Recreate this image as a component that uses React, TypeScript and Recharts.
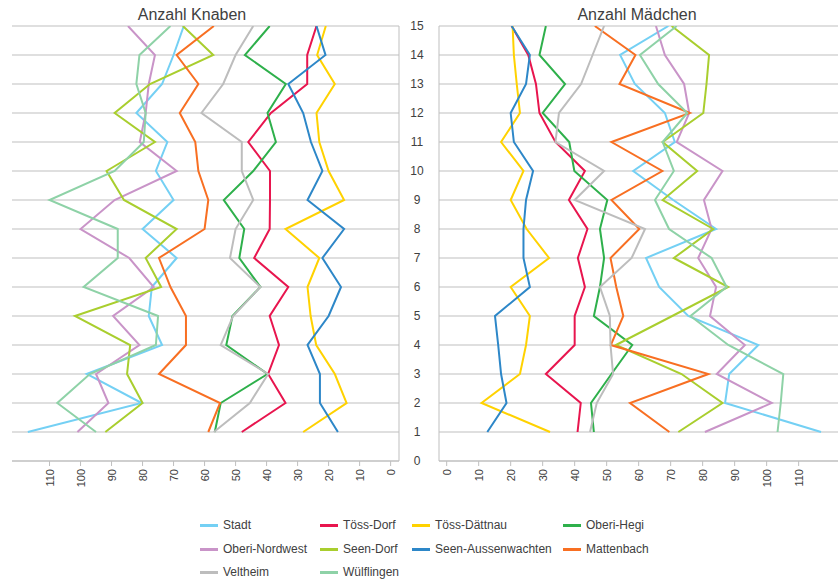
import React from 'react';
import { LineChart, Line, XAxis, YAxis, ReferenceLine } from 'recharts';

// ---- Data -------------------------------------------------------------
const ages = [1, 2, 3, 4, 5, 6, 7, 8, 9, 10, 11, 12, 13, 14, 15];
const xTicks = [0, 10, 20, 30, 40, 50, 60, 70, 80, 90, 100, 110];
const yTicks = [0, 1, 2, 3, 4, 5, 6, 7, 8, 9, 10, 11, 12, 13, 14, 15];

const seriesNames = [
  'Stadt', 'Töss-Dorf', 'Töss-Dättnau', 'Oberi-Hegi',
  'Oberi-Nordwest', 'Seen-Dorf', 'Seen-Aussenwachten', 'Mattenbach',
  'Veltheim', 'Wülflingen',
];
const seriesColors = [
  '#74D0F4', '#E8154E', '#FFD200', '#2EB04B',
  '#C994C8', '#A9CE2E', '#2D87C8', '#F86F22',
  '#BDBDBD', '#8ED2A7',
];

// Anzahl Knaben (age 1 .. 15)
const knabenStadt = [117, 80.3, 98, 73.7, 78, 77, 69, 80, 70, 75.7, 72, 82, 73.7, 70, 66.7];
const knabenToessDorf = [48, 33.9, 39.5, 36, 39, 33, 44, 39, 38.9, 38.9, 45.9, 38.6, 26.9, 26.9, 23.9];
const knabenToessDaettnau = [28.2, 14.2, 18, 24, 25.8, 26.8, 23, 33.9, 15, 20, 23, 23.9, 18, 23.7, 20.9];
const knabenOberiHegi = [56.7, 54.8, 39.7, 53, 51, 42, 48.8, 47.2, 53.8, 44.3, 37, 39.7, 33.8, 47, 39];
const knabenOberiNordwest = [101, 91, 95, 81, 89.5, 76.4, 84.3, 100, 89, 69, 80.9, 79, 78, 76, 84.7];
const knabenSeenDorf = [92, 80, 85, 84, 101.8, 74, 79, 69, 86, 91.6, 76, 89, 77.6, 57.2, 67];
const knabenSeenAussenwachten = [17, 22.8, 22.8, 26.8, 20, 16, 22, 15, 26.8, 22, 25.7, 28.2, 33, 21, 23.9];
const knabenMattenbach = [58.8, 55, 74.7, 66, 66, 71, 74.7, 60, 58.8, 62, 63, 68, 62, 69, 57];
const knabenVeltheim = [57, 45.4, 39.5, 54.8, 50.8, 42, 51.8, 50, 44.3, 48, 48, 61, 54, 50, 44.3];
const knabenWuelflingen = [95, 107.5, 97, 75.7, 75, 99, 88, 88, 110, 89, 79.6, 79, 82, 81, 71];

// Anzahl Mädchen (age 1 .. 15)
const maedchenStadt = [117, 87, 88.3, 97.4, 75.5, 66.4, 62.3, 84.2, 70.8, 58.3, 71.3, 68.2, 58.8, 54.2, 69.3];
const maedchenToessDorf = [40.9, 41.9, 31, 40, 40, 43.2, 41, 44, 38.2, 43.2, 34, 29, 27.9, 25.5, 20.3];
const maedchenToessDaettnau = [32.3, 10.9, 22.9, 24.8, 26, 20, 32, 25, 20, 24, 17, 22.9, 21.9, 21, 20.6];
const maedchenOberiHegi = [46, 45.1, 51.5, 58, 46, 47.9, 49.2, 47.9, 50.2, 39.9, 38.3, 30, 37, 29, 31];
const maedchenOberiNordwest = [80.7, 101.6, 84.4, 93.2, 82.3, 84.2, 78.6, 82.8, 80.4, 86.2, 71.9, 75.8, 74.2, 68.2, 65.4];
const maedchenSeenDorf = [72.4, 86.2, 73.4, 52.9, 70.5, 88, 71, 83.3, 67.5, 78.3, 67.5, 80.2, 81.2, 82, 70.3];
const maedchenSeenAussenwachten = [12.7, 18.7, 17, 16.1, 15.1, 26, 24, 24, 24.8, 27, 21, 20, 24.8, 26, 20.3];
const maedchenMattenbach = [69.6, 57.3, 81.8, 51.3, 55.2, 53, 51.2, 60.2, 51.5, 67.4, 51.5, 76, 54, 59, 46.3];
const maedchenVeltheim = [44.8, 46.9, 52, 51.2, 51, 47.9, 57.8, 62, 40, 49.2, 34, 35.1, 42, 45.6, 49.2];
const maedchenWuelflingen = [103.4, 104.4, 105.2, 88, 76.2, 87.5, 82.8, 69.5, 65.1, 71, 67.5, 75.2, 66.1, 60.4, 71.9];

const knabenSeries = [
  knabenStadt, knabenToessDorf, knabenToessDaettnau, knabenOberiHegi,
  knabenOberiNordwest, knabenSeenDorf, knabenSeenAussenwachten, knabenMattenbach,
  knabenVeltheim, knabenWuelflingen,
];
const maedchenSeries = [
  maedchenStadt, maedchenToessDorf, maedchenToessDaettnau, maedchenOberiHegi,
  maedchenOberiNordwest, maedchenSeenDorf, maedchenSeenAussenwachten, maedchenMattenbach,
  maedchenVeltheim, maedchenWuelflingen,
];

const buildRows = (seriesValues: number[][]) =>
  ages.map((age, i) => {
    const row: Record<string, number> = { age };
    seriesNames.forEach((name, s) => {
      row[name] = seriesValues[s][i];
    });
    return row;
  });

const boysData = buildRows(knabenSeries);
const girlsData = buildRows(maedchenSeries);

// ---- Styling ----------------------------------------------------------
const FONT = '"Liberation Sans", Arial, Helvetica, sans-serif';
const TEXT = '#404040';
const GRID = '#BFBFBF';

const XTick = (props: any) => {
  const { x, y, payload } = props;
  return (
    <text
      x={x}
      y={y}
      transform={`rotate(-90, ${x}, ${y})`}
      textAnchor="end"
      dominantBaseline="central"
      fontSize={11}
      fill={TEXT}
      fontFamily={FONT}
    >
      {payload.value}
    </text>
  );
};

const YTick = (props: any) => {
  const { x, y, payload } = props;
  return (
    <text
      x={x - 22}
      y={y}
      textAnchor="middle"
      dominantBaseline="central"
      fontSize={12}
      fill={TEXT}
      fontFamily={FONT}
    >
      {payload.value}
    </text>
  );
};

const legendCols = [200, 320, 412, 563];
const legendRows = [525, 549, 572];

const renderGrid = () =>
  yTicks.map((t) => (
    <ReferenceLine key={`g${t}`} y={t} stroke={GRID} strokeWidth={1} ifOverflow="visible" />
  ));

const renderLines = () =>
  seriesNames.map((name, i) => (
    <Line
      key={name}
      type="linear"
      dataKey={name}
      stroke={seriesColors[i]}
      strokeWidth={2}
      dot={false}
      activeDot={false}
      isAnimationActive={false}
    />
  ));

export default function App() {
  return (
    <div
      style={{
        position: 'absolute',
        left: 0,
        top: 0,
        width: 838,
        height: 583,
        background: '#fff',
        fontFamily: FONT,
        overflow: 'hidden',
      }}
    >
      <div
        style={{
          position: 'absolute',
          left: 92,
          width: 200,
          top: 4,
          textAlign: 'center',
          fontSize: 16,
          lineHeight: '22px',
          color: TEXT,
        }}
      >
        Anzahl Knaben
      </div>
      <div
        style={{
          position: 'absolute',
          left: 537,
          width: 200,
          top: 4,
          textAlign: 'center',
          fontSize: 16,
          lineHeight: '22px',
          color: TEXT,
        }}
      >
        Anzahl Mädchen
      </div>

      <div style={{ position: 'absolute', left: 0, top: 0 }}>
        <LineChart
          width={400}
          height={500}
          data={boysData}
          layout="vertical"
          margin={{ top: 26, right: 0, bottom: 0, left: 12 }}
        >
          <XAxis
            type="number"
            domain={[-2.7, 122.1]}
            reversed
            allowDataOverflow
            ticks={xTicks}
            interval={0}
            height={39}
            tick={<XTick />}
            tickSize={5}
            tickMargin={3}
            stroke={GRID}
          />
          <YAxis
            type="number"
            dataKey="age"
            orientation="right"
            domain={[0, 15]}
            reversed
            ticks={yTicks}
            interval={0}
            allowDataOverflow
            width={1}
            tick={false}
            tickLine={false}
            stroke={GRID}
          />
          {renderGrid()}
          {renderLines()}
        </LineChart>
      </div>

      <div style={{ position: 'absolute', left: 400, top: 0 }}>
        <LineChart
          width={438}
          height={500}
          data={girlsData}
          layout="vertical"
          margin={{ top: 26, right: 0, bottom: 0, left: 0 }}
        >
          <XAxis
            type="number"
            domain={[-2.4, 122.3]}
            allowDataOverflow
            ticks={xTicks}
            interval={0}
            height={39}
            tick={<XTick />}
            tickSize={5}
            tickMargin={3}
            stroke={GRID}
          />
          <YAxis
            type="number"
            dataKey="age"
            domain={[0, 15]}
            reversed
            ticks={yTicks}
            interval={0}
            allowDataOverflow
            width={39}
            tick={<YTick />}
            tickLine={false}
            tickSize={0}
            tickMargin={0}
            stroke={GRID}
          />
          {renderGrid()}
          {renderLines()}
        </LineChart>
      </div>

      {seriesNames.map((name, i) => (
        <div
          key={name}
          style={{
            position: 'absolute',
            left: legendCols[i % 4],
            top: legendRows[Math.floor(i / 4)] - 8,
            height: 16,
            display: 'flex',
            alignItems: 'center',
            whiteSpace: 'nowrap',
            fontSize: 12,
            color: TEXT,
          }}
        >
          <span
            style={{
              display: 'inline-block',
              width: 18,
              height: 3,
              background: seriesColors[i],
              marginRight: 5,
            }}
          />
          {name}
        </div>
      ))}
    </div>
  );
}
